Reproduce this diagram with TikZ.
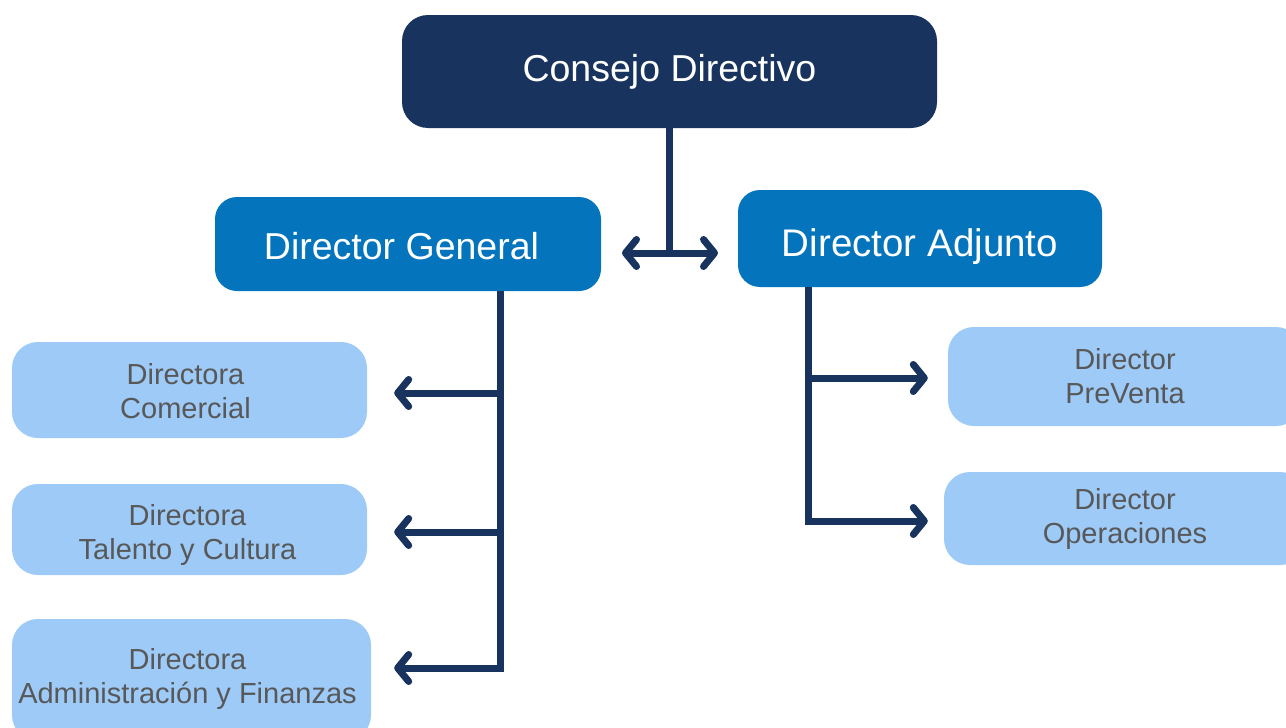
\documentclass[tikz,border=0pt]{standalone}
\usepackage{fontspec}
\setmainfont{Liberation Sans}
\usetikzlibrary{arrows.meta}
\definecolor{navy}{HTML}{17335E}
\definecolor{midblue}{HTML}{0474BD}
\definecolor{lightblue}{HTML}{9DCAF7}
\definecolor{txtgray}{HTML}{585858}
\newcommand{\downby}[2]{\raisebox{0pt}[\dimexpr\height+#1\relax][\depth]{#2}}
\tikzset{
  topbox/.style={draw=none,fill=navy,rounded corners=26pt,text=white,font=\fontsize{37.5}{42}\selectfont,inner sep=0pt},
  midbox/.style={draw=none,fill=midblue,rounded corners=22pt,text=white,font=\fontsize{37.5}{42}\selectfont,inner sep=0pt},
  lowbox/.style={draw=none,fill=lightblue,rounded corners=26pt,text=txtgray,font=\fontsize{29}{34}\selectfont,align=center,inner sep=0pt},
  conn/.style={draw=navy,line width=7pt},
  tip/.style={-{Straight Barb[length=11pt,width=27pt,line cap=round,line join=round]}},
  tips/.style={{Straight Barb[length=11pt,width=27pt,line cap=round,line join=round]}-{Straight Barb[length=11pt,width=27pt,line cap=round,line join=round]}}
}
\begin{document}
\begin{tikzpicture}[x=1pt,y=-1pt]
\useasboundingbox (0,0) rectangle (1286,728);
\clip (0,0) rectangle (1286,728);
\node[topbox,minimum width=535pt,minimum height=113pt] (cd) at (669.5,71.5) {Consejo Directivo};
\node[midbox,minimum width=386pt,minimum height=94pt] (dg) at (408,244) {\hspace*{-13pt}\downby{5pt}{Director General}};
\node[midbox,minimum width=364pt,minimum height=97pt] (da) at (920,238.5) {\downby{16pt}{\fontsize{38.5}{44}\selectfont Director Adjunto}};
\node[lowbox,minimum width=355pt,minimum height=96pt] (dc) at (189.5,390) {\hspace*{-8pt}\downby{10pt}{\begin{tabular}{@{}c@{}}Directora\\Comercial\end{tabular}}};
\node[lowbox,minimum width=355pt,minimum height=91pt] (dt) at (189.5,529.5) {\hspace*{-4pt}\downby{12pt}{\begin{tabular}{@{}c@{}}Directora\\Talento y Cultura\end{tabular}}};
\node[lowbox,minimum width=359pt,minimum height=122pt] (daf) at (191.5,680) {\hspace*{-8pt}\raisebox{3pt}{\begin{tabular}{@{}c@{}}Directora\\Administración y Finanzas\end{tabular}}};
\node[lowbox,minimum width=354pt,minimum height=99pt] (dp) at (1125,376.5) {Director\\PreVenta};
\node[lowbox,minimum width=362pt,minimum height=93pt] (do) at (1125,518.5) {Director\\Operaciones};
% coordinates
\coordinate (j) at (669,253);
\coordinate (la) at (622,253);
\coordinate (ra) at (718,253);
\coordinate (g0) at (500,291);
\coordinate (g1) at (500,393);
\coordinate (g2) at (500,532);
\coordinate (g3) at (500,668);
\coordinate (a0) at (808,287);
\coordinate (a1) at (808,378);
\coordinate (a2) at (808,521);
% connectors
\draw[conn] (cd.south -| j) -- (j);
\draw[conn,tips] (la) -- (ra);
\draw[conn] (g0) -- (g3);
\draw[conn,tip,shorten >=27pt] (g1) -- (g1 -| dc.east);
\draw[conn,tip,shorten >=27pt] (g2) -- (g2 -| dt.east);
\draw[conn,tip,line join=miter,shorten >=23pt] ([yshift=-3.5pt]g0) -- (g3) -- (g3 -| daf.east);
\draw[conn] (a0) -- (a2);
\draw[conn,tip,shorten >=20pt] (a1) -- (a1 -| dp.west);
\draw[conn,tip,line join=miter,shorten >=16pt] (a0) -- (a2) -- (a2 -| do.west);
\end{tikzpicture}
\end{document}
